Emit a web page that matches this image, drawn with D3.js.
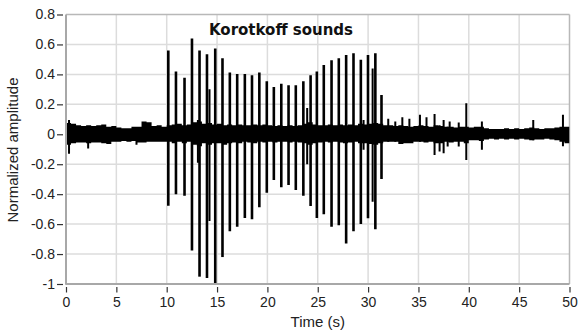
<!DOCTYPE html>
<html><head><meta charset="utf-8">
<script src="https://cdn.jsdelivr.net/npm/d3@7"></script>
<style>body{margin:0;background:#fff}svg{display:block}</style>
</head><body>
<svg id="chart" width="579" height="331"></svg>
<script>
// ---- data ----
const xTicks = [0, 5, 10, 15, 20, 25, 30, 35, 40, 45, 50];
const yTicks = [-1, -0.8, -0.6, -0.4, -0.2, 0, 0.2, 0.4, 0.6, 0.8];
const yTickLabels = ["-1", "-0.8", "-0.6", "-0.4", "-0.2", "0", "0.2", "0.4", "0.6", "0.8"];

// main Korotkoff beats: time (s), positive peak, negative peak
const spikeTime = [10.16, 10.92, 11.77, 12.51, 13.26, 14.0, 14.82, 15.54, 16.27, 17.0,
                   17.76, 18.47, 19.2, 19.94, 20.64, 21.38, 22.1, 22.82, 23.57, 24.29,
                   24.91, 25.6, 26.37, 27.09, 27.82, 28.55, 29.28, 29.99, 30.72, 31.33];
const spikeMax = [0.56, 0.42, 0.377, 0.64, 0.56, 0.535, 0.573, 0.508, 0.412, 0.403,
                  0.403, 0.395, 0.412, 0.355, 0.315, 0.337, 0.328, 0.328, 0.355, 0.395,
                  0.42, 0.462, 0.495, 0.508, 0.53, 0.542, 0.497, 0.53, 0.542, 0.263];
const spikeMin = [-0.477, -0.40, -0.41, -0.777, -0.951, -0.96, -0.995, -0.82, -0.648, -0.617,
                  -0.56, -0.568, -0.487, -0.39, -0.305, -0.354, -0.338, -0.372, -0.41, -0.479,
                  -0.56, -0.534, -0.617, -0.608, -0.73, -0.648, -0.599, -0.561, -0.635, -0.298];

// smaller transients
const minorTime = [0.3, 2.2, 7.0, 13.1, 14.25, 23.95, 29.55, 30.45, 32.0, 32.7, 33.4, 34.1,
                   35.15, 35.8, 36.6, 37.1, 37.5, 37.9, 38.1, 39.0, 39.75, 41.3, 46.4, 49.35];
const minorMax = [0.095, 0.03, 0.03, 0.095, 0.30, 0.175, 0.096, 0.44, 0.103, 0.085, 0.114, 0.103,
                  0.13, 0.114, 0.136, 0.06, 0.096, 0.05, 0.085, 0.078, 0.208, 0.085, 0.096, 0.13];
const minorMin = [-0.13, -0.095, -0.07, -0.19, -0.58, -0.20, -0.104, -0.45, -0.05, -0.05, -0.06, -0.05,
                  -0.05, -0.05, -0.138, -0.115, -0.127, -0.082, -0.05, -0.082, -0.171, -0.104, -0.04, -0.08];

// baseline noise envelope, one value per 0.5 s bin (0 .. 49.5 s)
const noiseUpper = [0.075,0.07,0.06,0.055,0.06,0.055,0.06,0.065,0.05,0.055,
                    0.045,0.04,0.04,0.05,0.05,0.085,0.08,0.055,0.06,0.05,
                    0.06,0.065,0.07,0.06,0.065,0.08,0.085,0.07,0.075,0.065,
                    0.07,0.06,0.065,0.06,0.065,0.06,0.06,0.065,0.06,0.065,
                    0.06,0.055,0.06,0.055,0.06,0.055,0.06,0.07,0.08,0.065,
                    0.06,0.06,0.065,0.06,0.065,0.06,0.065,0.06,0.07,0.065,
                    0.07,0.075,0.07,0.06,0.06,0.055,0.06,0.055,0.05,0.055,
                    0.06,0.055,0.05,0.06,0.055,0.05,0.05,0.045,0.05,0.05,
                    0.045,0.05,0.05,0.04,0.035,0.035,0.035,0.04,0.035,0.04,
                    0.035,0.04,0.045,0.04,0.035,0.04,0.04,0.045,0.05,0.05];
const noiseLower = [-0.07,-0.06,-0.055,-0.055,-0.06,-0.055,-0.055,-0.06,-0.065,-0.05,
                    -0.05,-0.045,-0.05,-0.045,-0.055,-0.055,-0.05,-0.05,-0.05,-0.05,
                    -0.05,-0.06,-0.05,-0.06,-0.05,-0.07,-0.08,-0.06,-0.07,-0.06,
                    -0.06,-0.07,-0.06,-0.055,-0.06,-0.05,-0.055,-0.06,-0.05,-0.055,
                    -0.05,-0.055,-0.05,-0.05,-0.055,-0.05,-0.055,-0.06,-0.07,-0.06,
                    -0.055,-0.05,-0.055,-0.05,-0.055,-0.06,-0.055,-0.05,-0.06,-0.06,
                    -0.065,-0.07,-0.06,-0.05,-0.05,-0.05,-0.065,-0.06,-0.06,-0.05,
                    -0.05,-0.055,-0.05,-0.06,-0.06,-0.05,-0.055,-0.05,-0.05,-0.06,
                    -0.04,-0.04,-0.045,-0.035,-0.03,-0.035,-0.03,-0.035,-0.03,-0.035,
                    -0.03,-0.035,-0.04,-0.035,-0.035,-0.03,-0.035,-0.04,-0.05,-0.06];
const binWidth = 0.5;

// ---- layout ----
const svg = d3.select("#chart");
const L = 66, T = 14.5, R = 569.5, B = 284;
const x = d3.scaleLinear().domain([0, 50]).range([L, R]);
const y = d3.scaleLinear().domain([-1, 0.8]).range([B, T]);
const fontAxis = "'Liberation Sans', Arial, sans-serif";

// grid
svg.append("g").selectAll("line").data(xTicks.slice(1, -1)).join("line")
  .attr("x1", d => x(d)).attr("x2", d => x(d)).attr("y1", T).attr("y2", B)
  .attr("stroke", "#dcdcdc").attr("stroke-width", 1.5);
svg.append("g").selectAll("line").data(yTicks.slice(1, -1)).join("line")
  .attr("y1", d => y(d)).attr("y2", d => y(d)).attr("x1", L).attr("x2", R)
  .attr("stroke", "#dcdcdc").attr("stroke-width", 1.5);

// frame top/right
svg.append("line").attr("x1", L).attr("x2", R).attr("y1", T).attr("y2", T).attr("stroke", "#b8b8b8").attr("stroke-width", 1.5);
svg.append("line").attr("x1", R).attr("x2", R).attr("y1", T).attr("y2", B).attr("stroke", "#b8b8b8").attr("stroke-width", 1.5);

// clip
svg.append("clipPath").attr("id", "clip").append("rect").attr("x", L).attr("y", T).attr("width", R - L).attr("height", B - T);
const plot = svg.append("g").attr("clip-path", "url(#clip)");

// noise band
const bins = noiseUpper.map((u, i) => ({t: i * binWidth, u: u, l: noiseLower[i]}));
bins.push({t: 50, u: noiseUpper[noiseUpper.length - 1], l: noiseLower[noiseLower.length - 1]});
plot.append("path").datum(bins)
  .attr("d", d3.area().curve(d3.curveStepAfter).x(d => x(d.t)).y0(d => y(d.l)).y1(d => y(d.u)))
  .attr("fill", "#000");

// minor transients
plot.append("g").selectAll("line").data(minorTime).join("line")
  .attr("x1", d => x(d)).attr("x2", d => x(d))
  .attr("y1", (d, i) => y(minorMax[i])).attr("y2", (d, i) => y(minorMin[i]))
  .attr("stroke", "#000").attr("stroke-width", 2);

// main spikes
plot.append("g").selectAll("line").data(spikeTime).join("line")
  .attr("x1", d => x(d)).attr("x2", d => x(d))
  .attr("y1", (d, i) => y(spikeMax[i])).attr("y2", (d, i) => y(spikeMin[i]))
  .attr("stroke", "#000").attr("stroke-width", 2.6);

// axes
const yAxis = svg.append("g").attr("transform", `translate(${L},0)`)
  .call(d3.axisLeft(y).tickValues(yTicks).tickFormat((d, i) => yTickLabels[i]).tickSize(6));
yAxis.select(".domain").remove();
yAxis.selectAll(".tick line").attr("x1", -3).attr("x2", -9).attr("stroke", "#333").attr("stroke-width", 1.2);
yAxis.selectAll(".tick text").attr("x", -11).attr("font-family", fontAxis).attr("font-size", 14).attr("fill", "#222");

const xAxis = svg.append("g").attr("transform", `translate(0,${B})`)
  .call(d3.axisBottom(x).tickValues(xTicks).tickFormat(d => String(d)).tickSize(6));
xAxis.select(".domain").remove();
xAxis.selectAll(".tick line").attr("y1", 3).attr("y2", 8.5).attr("stroke", "#333").attr("stroke-width", 1.2);
xAxis.selectAll(".tick text").attr("y", 23).attr("dy", 0).attr("font-family", fontAxis).attr("font-size", 14).attr("fill", "#222");

svg.append("line").attr("x1", L).attr("x2", L).attr("y1", T).attr("y2", B + 0.5).attr("stroke", "#a8a8a8").attr("stroke-width", 2);
svg.append("line").attr("x1", L - 0.5).attr("x2", R).attr("y1", B).attr("y2", B).attr("stroke", "#a8a8a8").attr("stroke-width", 2);

// titles
svg.append("text").attr("x", 281).attr("y", 35).attr("text-anchor", "middle")
  .attr("font-family", "'DejaVu Sans', Verdana, sans-serif").attr("font-weight", "bold").attr("font-size", 15)
  .attr("fill", "#111").text("Korotkoff sounds");
svg.append("text").attr("x", (L + R) / 2).attr("y", 327).attr("text-anchor", "middle")
  .attr("font-family", fontAxis).attr("font-size", 15).attr("fill", "#222").text("Time (s)");
svg.append("text").attr("transform", `translate(18,150) rotate(-90)`).attr("text-anchor", "middle")
  .attr("font-family", fontAxis).attr("font-size", 15).attr("fill", "#222").text("Normalized amplitude");
</script>
</body></html>
